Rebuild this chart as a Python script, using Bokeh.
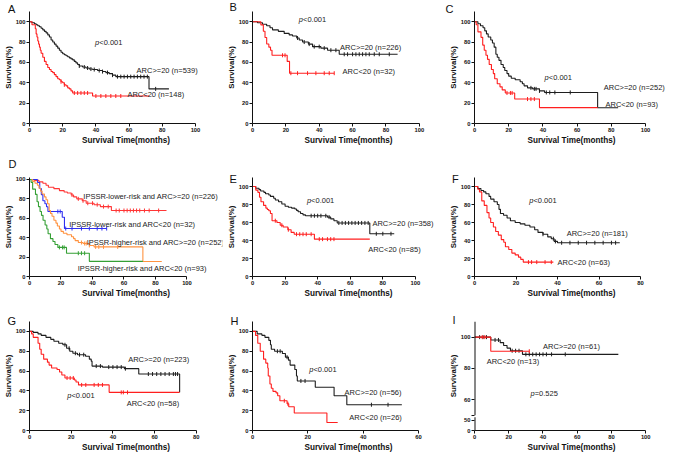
import numpy as np
from bokeh.plotting import figure
from bokeh.layouts import gridplot
from bokeh.models import Range1d, FixedTicker, Label
from bokeh.embed import file_html
from bokeh.resources import INLINE

FONT = "Liberation Sans"
BLACK = "#1e1e1e"
RED = "#ff1f1f"
D_RED = "#ff3636"
D_BLUE = "#2f2ff0"
D_ORANGE = "#ff9340"
D_GREEN = "#35a035"
ANN_SIZE = "7.5px"

X_LABEL = "Survival Time(months)"
Y_LABEL = "Survival(%)"

# ---------------- data (time in months, survival in %) ----------------
# A: all patients
a_hi_t = [0, 1, 2, 3, 4, 5, 6, 7, 8, 9, 10, 11, 12, 13, 14, 15, 16, 17, 18, 19, 20, 21, 22, 23, 24, 25, 26, 27, 28, 29, 30, 32, 34, 36, 38, 41, 44, 46, 48, 50, 52, 72]
a_hi_s = [100, 99.5, 99, 98, 97, 96, 95, 93.5, 92, 90.5, 89, 87, 85, 82, 80, 78, 76, 74, 72, 70, 68.5, 67.5, 66.5, 65.5, 64.5, 63.5, 62.5, 61, 59.5, 58, 56.5, 55.5, 54.5, 53.5, 53, 52, 51, 50, 49, 47.5, 46, 34]
a_hi_end = 84
a_hi_cens = [30, 33, 35, 37, 39, 42, 44, 47, 50, 53, 55, 57, 59, 61, 63, 65, 67, 69, 71, 76]
a_lo_t = [0, 1.5, 3.5, 4, 4.5, 5, 5.5, 6, 6.5, 7, 8, 9, 10, 11, 12, 13, 14, 15, 16, 17, 18, 19, 20, 21, 22, 23, 24, 25, 26, 38]
a_lo_s = [100, 97, 93, 88, 85, 81, 78, 75, 72, 69, 65, 61, 58, 55, 53, 51, 50, 48, 46, 44, 43, 41, 40, 38, 37, 35, 34, 32, 30, 27]
a_lo_end = 72
a_lo_cens = [19, 21, 27, 29, 31, 33, 35, 40, 43, 46, 49, 52, 55]

# B: IPSSR lower risk
b_hi_t = [0, 3, 6, 8.5, 10.5, 12, 15.5, 19, 22, 24, 26.5, 28, 30, 33.5, 36, 41, 45, 52]
b_hi_s = [100, 99, 97.5, 96, 94, 92, 90.5, 88.5, 87, 86, 84, 82, 80, 78, 75.5, 74, 72, 68]
b_hi_end = 87
b_hi_cens = [27, 31, 34, 37, 40, 43, 47, 50, 55, 57, 60, 62, 64, 66, 68, 70, 73, 76, 82]
b_lo_t = [0, 5, 6.5, 7.5, 8.5, 9.8, 10.8, 11.7, 20.8, 22.2]
b_lo_s = [100, 96.9, 90.6, 84.4, 78.1, 75, 71.9, 67, 61, 49.4]
b_lo_end = 49
b_lo_cens = [18, 19.5, 23, 27, 33, 38, 43, 46, 49]

# C: IPSSR higher risk
c_hi_t = [0, 2, 3.5, 5, 6, 7, 8, 9.5, 10.5, 11.5, 12.5, 13.3, 14.3, 15.5, 16.8, 17.7, 19, 20, 21.5, 23.8, 26.7, 28, 29, 31, 34, 38, 41, 72]
c_hi_s = [100, 98, 96, 94, 91, 88, 85, 82, 79, 75, 68, 65, 62, 58, 55, 52, 49, 46.5, 44.5, 43, 41, 39, 37, 35, 34, 32, 30.5, 15.4]
c_hi_end = 84
c_hi_cens = [33, 35, 36, 38, 42, 44, 47, 56]
c_lo_t = [0, 1, 2, 3.8, 4.8, 5.7, 6.7, 7.6, 8.6, 9.9, 11, 11.8, 13.3, 14.9, 16.2, 18, 23.5, 38]
c_lo_s = [100, 97, 90, 84.6, 77, 72, 67, 63, 58, 53, 49, 44, 39, 36, 33, 30, 24, 15.6]
c_lo_end = 72
c_lo_cens = [19, 21, 22, 31, 33, 35]

# E
e_hi_t = [0, 2, 4, 5, 7, 8, 10, 11, 13, 14, 16, 18, 20, 22, 24, 26, 27, 28, 29.5, 31, 32.5, 46, 48, 50, 52, 72]
e_hi_s = [100, 98, 96.5, 95, 93.5, 92, 90.5, 89, 87, 85, 83, 80.5, 78, 77, 76, 75, 73.5, 72, 70, 68.5, 67.5, 66, 64, 62, 59.5, 47.5]
e_hi_end = 87
e_hi_cens = [36, 38, 40, 42, 45, 47, 53, 55, 57, 59, 61, 63, 65, 67, 69, 71, 76, 80, 85]
e_lo_t = [0, 2, 3.3, 4.3, 5.2, 6.8, 8.2, 9.1, 10, 11, 12, 15, 17, 18.8, 21.7, 23.7, 25.6, 38]
e_lo_s = [100, 96, 93.5, 88, 83, 79, 76, 74.5, 73, 70, 62, 60, 57, 55, 52, 49, 47, 41.5]
e_lo_end = 72
e_lo_cens = [14, 18, 22, 27, 29, 31, 33, 36, 41, 43, 46, 48, 50]

# F
f_hi_t = [0, 1.6, 3.1, 4.4, 5.5, 7, 7.8, 9.4, 11, 11.8, 12.5, 14, 15.7, 17.3, 19.6, 22, 24.3, 26.7, 29, 30.6, 33, 35.3, 37, 38.4, 40]
f_hi_s = [100, 97.7, 95.5, 94, 92, 89, 86, 83, 80, 74.6, 70, 68, 65, 62, 60, 58.5, 57, 55, 52, 49, 47, 44, 42, 39, 37.5]
f_hi_end = 70
f_hi_cens = [33, 38, 39, 42, 46, 50, 54, 58, 62, 66, 68]
f_lo_t = [0, 1.6, 2.4, 3.5, 4.7, 6, 7, 7.8, 9.1, 10.2, 11.5, 12.9, 14.1, 14.9, 16.5, 18, 19.6, 21.2, 22.3, 23.5]
f_lo_s = [100, 97, 94, 84, 79, 71, 65, 60, 55, 50, 46, 41, 38, 33, 30, 26, 24, 21.5, 19, 16]
f_lo_end = 38
f_lo_cens = [26, 27.5, 30, 34, 37]

# G
g_hi_t = [0, 1.8, 4.1, 5.6, 7.9, 10.2, 11.7, 14, 16, 17.8, 19.3, 20.8, 23, 26.9, 28.7, 29.6, 30, 35, 45.5, 52.4, 72]
g_hi_s = [100, 99, 97.5, 96, 94, 92, 90, 88, 86.5, 83, 80, 78, 76.5, 75, 72, 70, 65, 64, 62.4, 57, 38.5]
g_hi_end = 72
g_hi_cens = [17, 19, 22, 24, 26, 32, 34, 38, 40, 42, 44, 46, 57, 59, 61, 63, 65, 67, 69, 70, 71]
g_lo_t = [0, 1, 1.8, 4.1, 4.9, 5.6, 6.8, 8.6, 9.4, 10.6, 13.2, 14.4, 15.5, 17, 21.5, 22.3, 23.5, 38.2]
g_lo_s = [100, 97.5, 94, 88, 82, 77, 72, 69, 66, 63, 61.5, 59, 56, 53, 51, 49, 46, 38.5]
g_lo_end = 72
g_lo_cens = [18, 19.5, 21, 25, 27, 31, 33, 35, 44, 45, 47]

# H
h_hi_t = [0, 1.7, 3.4, 4.5, 5.9, 6.5, 6.8, 8, 10.8, 11.9, 13, 13.6, 15.3, 15.9, 16.2, 22.7, 29.5, 34.1]
h_hi_s = [100, 97.5, 96, 94, 91, 86.5, 82, 80, 77.7, 74, 71, 66, 61.5, 55, 50, 43.6, 35, 26]
h_hi_end = 54
h_hi_cens = [9, 10, 12.5, 17.5, 19, 43, 49]
h_lo_t = [0, 1.1, 1.9, 2.8, 4, 4.8, 5.5, 5.7, 6.3, 6.8, 7.4, 8.5, 9.1, 9.9, 12.5, 13.1, 15.1, 26.9]
h_lo_s = [100, 96, 88, 80, 72, 68, 63, 55, 47, 42.6, 39.5, 38, 35, 30, 27, 24, 17.6, 8]
h_lo_end = 30.8
h_lo_cens = [11.5, 12.8]

# I
i_hi_t = [0, 9.5, 15, 17, 19, 21, 28]
i_hi_s = [100, 98.2, 96.5, 94.7, 93, 91.3, 89]
i_hi_end = 84
i_hi_cens = [3, 5, 7, 12, 14, 22, 24, 26, 30, 32, 34, 36, 38, 40, 42, 45, 53]
i_lo_t = [0, 9.5]
i_lo_s = [100, 91]
i_lo_end = 32
i_lo_cens = [4.5, 6, 32]

# texts
lab_a = ["ARC>=20 (n=539)", "ARC<20 (n=148)"]
lab_b = ["ARC>=20 (n=226)", "ARC<20 (n=32)"]
lab_c = ["ARC>=20 (n=252)", "ARC<20 (n=93)"]
lab_d = ["IPSSR-lower-risk and ARC>=20 (n=226)", "IPSSR-lower-risk and ARC<20 (n=32)",
         "IPSSR-higher-risk and ARC>=20 (n=252)", "IPSSR-higher-risk and ARC<20 (n=93)"]
lab_e = ["ARC>=20 (n=358)", "ARC<20 (n=85)"]
lab_f = ["ARC>=20 (n=181)", "ARC<20 (n=63)"]
lab_g = ["ARC>=20 (n=223)", "ARC<20 (n=58)"]
lab_h = ["ARC>=20 (n=56)", "ARC<20 (n=26)"]
lab_i = ["ARC>=20 (n=61)", "ARC<20 (n=13)"]
p_small = "<0.001"
p_i = "=0.525"

TICKS100 = [0, 20, 40, 60, 80, 100]
TICKS80 = [0, 20, 40, 60, 80]
TICKS60 = [0, 20, 40, 60]
YTICKS = [0, 20, 40, 60, 80, 100]


def curve(t, s, end, cens, color):
    return dict(t=t, s=s, end=end, cens=cens, color=color)


def make_panel(letter, size, border, xmax, xticks, yrange, yticks, curves, texts,
               pval=None, letter_pos=(0, 0), yoverrides=None, broken=None, letter_top=None):
    w, h = size
    L, R, T, B = border
    ymin, ymax = yrange
    fw = w - L - R
    R_new = 1
    x_end = xmax * (w - L - R_new) / fw
    p = figure(width=w, height=h, x_range=Range1d(0, x_end), y_range=Range1d(ymin, ymax),
               output_backend="svg", toolbar_location=None,
               min_border_left=L, min_border_right=R_new, min_border_top=T, min_border_bottom=B)
    p.outline_line_color = None
    p.xgrid.visible = False
    p.ygrid.visible = False
    p.background_fill_color = "white"
    p.border_fill_color = "white"

    for c in curves:
        t, s = c["t"], c["s"]
        assert len(t) == len(s)
        xs = list(t) + [c["end"]]
        ys = list(s) + [s[-1]]
        p.step(xs, ys, mode="after", line_color=c["color"], line_width=1.1)
        ta = np.array(t, dtype=float)
        sa = np.array(s, dtype=float)
        ca = np.array(c["cens"], dtype=float)
        idx = np.searchsorted(ta, ca, side="right") - 1
        p.scatter(ca, sa[idx], marker="dash", angle=np.pi / 2, size=4,
                  line_color=c["color"], line_width=1)

    for (x, y, txt) in texts:
        p.add_layout(Label(x=x, y=y, text=txt, text_font=FONT, text_font_size=ANN_SIZE,
                           text_color="#222222", text_baseline="middle", text_align="left"))
    if pval is not None:
        x, y, txt = pval
        p.add_layout(Label(x=x, y=y, text="p", text_font=FONT, text_font_size=ANN_SIZE,
                           text_font_style="italic", text_color="#222222",
                           text_baseline="middle", text_align="left"))
        p.add_layout(Label(x=x, y=y, x_offset=4.2, text=txt, text_font=FONT, text_font_size=ANN_SIZE,
                           text_color="#222222", text_baseline="middle", text_align="left"))

    # panel letter as the title, pulled left of the frame
    p.title.text = letter
    p.title.align = "left"
    p.title.offset = letter_pos[0] - L
    p.title.text_font = FONT
    p.title.text_font_size = "11px"
    p.title.text_font_style = "normal"
    p.title.text_color = "#111111"
    if letter_top is None:
        p.title.standoff = int(round(2 * (T - letter_pos[1] - 10.3)))
    else:
        p.title.vertical_align = "top"
        p.title.standoff = letter_top

    p.xaxis.ticker = FixedTicker(ticks=xticks)
    p.yaxis.ticker = FixedTicker(ticks=yticks)
    p.xaxis.bounds = (0, xmax)
    if yoverrides:
        p.yaxis.major_label_overrides = yoverrides
    p.xaxis.axis_label = X_LABEL
    p.yaxis.axis_label = Y_LABEL
    for ax in (p.xaxis[0], p.yaxis[0]):
        ax.axis_line_color = "#111111"
        ax.axis_line_width = 1
        ax.major_tick_line_color = "#111111"
        ax.major_tick_in = 0
        ax.major_tick_out = 3
        ax.minor_tick_line_color = None
        ax.major_label_text_font = FONT
        ax.major_label_text_font_size = "5.8px"
        ax.major_label_text_font_style = "bold"
        ax.major_label_text_color = "#111111"
        ax.major_label_standoff = 1
        ax.axis_label_text_font = FONT
        ax.axis_label_text_font_style = "bold"
        ax.axis_label_text_color = "#111111"
        ax.axis_label_standoff = 1
    p.xaxis.axis_label_text_font_size = "8.2px"
    p.yaxis.axis_label_text_font_size = "7.8px"
    p.yaxis.axis_label_standoff = 0
    if broken is not None:
        lo_top, hi_bot = broken
        p.yaxis.axis_line_color = None
        p.segment(x0=[0, 0], y0=[hi_bot, ymin], x1=[0, 0], y1=[ymax, lo_top],
                  line_color="#111111", line_width=2)
    return p


pA = make_panel("A", (223, 150), (22, 29, 9, 27), 100, TICKS100, (0, 110), YTICKS,
                [curve(a_hi_t, a_hi_s, a_hi_end, a_hi_cens, BLACK),
                 curve(a_lo_t, a_lo_s, a_lo_end, a_lo_cens, RED)],
                [(64.5, 52, lab_a[0]), (59, 28.4, lab_a[1])],
                pval=(39.5, 80, p_small), letter_pos=(0.5, 1.6))

pB = make_panel("B", (222, 150), (23, 27, 9, 27), 100, TICKS100, (0, 110), YTICKS,
                [curve(b_hi_t, b_hi_s, b_hi_end, b_hi_cens, BLACK),
                 curve(b_lo_t, b_lo_s, b_lo_end, b_lo_cens, RED)],
                [(52.5, 75, lab_b[0]), (54, 50.8, lab_b[1])],
                pval=(27.8, 101.9, p_small), letter_pos=(0, 0))

pC = make_panel("C", (224, 150), (29, 24, 9, 27), 100, TICKS100, (0, 110), YTICKS,
                [curve(c_hi_t, c_hi_s, c_hi_end, c_hi_cens, BLACK),
                 curve(c_lo_t, c_lo_s, c_lo_end, c_lo_cens, RED)],
                [(75.6, 35, lab_c[0]), (76.6, 18.8, lab_c[1])],
                pval=(41, 45.5, p_small), letter_pos=(0, 1.6))

pD = make_panel("D", (223, 150), (21, 38, 27, 23), 100, TICKS100, (0, 102), YTICKS,
                [curve(b_hi_t, b_hi_s, b_hi_end, b_hi_cens, D_RED),
                 curve(b_lo_t, b_lo_s, b_lo_end, b_lo_cens, D_BLUE),
                 curve(c_hi_t, c_hi_s, c_hi_end, c_hi_cens, D_ORANGE),
                 curve(c_lo_t, c_lo_s, c_lo_end, c_lo_cens, D_GREEN)],
                [(34.2, 82, lab_d[0]), (25.2, 53.2, lab_d[1]),
                 (36.3, 35.5, lab_d[2]), (30.6, 8, lab_d[3])],
                letter_pos=(0, 6.5), letter_top=11)

pE = make_panel("E", (222, 150), (23, 31, 16, 23), 100, TICKS100, (0, 110), YTICKS,
                [curve(e_hi_t, e_hi_s, e_hi_end, e_hi_cens, BLACK),
                 curve(e_lo_t, e_lo_s, e_lo_end, e_lo_cens, RED)],
                [(73.6, 59, lab_e[0]), (71, 30, lab_e[1])],
                pval=(33.4, 84.2, p_small), letter_pos=(0, 12.6))

pF = make_panel("F", (224, 150), (29, 29, 16, 23), 80, TICKS80, (0, 110), YTICKS,
                [curve(f_hi_t, f_hi_s, f_hi_end, f_hi_cens, BLACK),
                 curve(f_lo_t, f_lo_s, f_lo_end, f_lo_cens, RED)],
                [(44.4, 47.9, lab_f[0]), (40, 15.8, lab_f[1])],
                pval=(26.4, 84.2, p_small), letter_pos=(6.5, 12.6))

pG = make_panel("G", (223, 154), (23, 28, 20, 22), 80, TICKS80, (0, 110), YTICKS,
                [curve(g_hi_t, g_hi_s, g_hi_end, g_hi_cens, BLACK),
                 curve(g_lo_t, g_lo_s, g_lo_end, g_lo_cens, RED)],
                [(47.3, 71.5, lab_g[0]), (46.6, 27, lab_g[1])],
                pval=(18.1, 35.7, p_small), letter_pos=(1, 14.5))

pH = make_panel("H", (222, 154), (22, 28, 20, 22), 60, TICKS60, (0, 110), YTICKS,
                [curve(h_hi_t, h_hi_s, h_hi_end, h_hi_cens, BLACK),
                 curve(h_lo_t, h_lo_s, h_lo_end, h_lo_cens, RED)],
                [(33.3, 37.9, lab_h[0]), (35, 12.9, lab_h[1])],
                pval=(20.5, 62, p_small), letter_pos=(0, 14.5))

pI = make_panel("I", (224, 154), (27, 24, 21, 20), 100, TICKS100, (40.3, 110),
                [40.3, 46.8, 50.1, 60, 80, 100],
                [curve(i_hi_t, i_hi_s, i_hi_end, i_hi_cens, BLACK),
                 curve(i_lo_t, i_lo_s, i_lo_end, i_lo_cens, RED)],
                [(40, 93.7, lab_i[0]), (7.1, 84.2, lab_i[1])],
                pval=(32.7, 64, p_i), letter_pos=(5, 14.5),
                yoverrides={40.3: "0", 46.8: "50", 50.1: ""}, broken=(48.8, 50.1))

grid = gridplot([[pA, pB, pC], [pD, pE, pF], [pG, pH, pI]], toolbar_location=None)

open("out.html", "w").write(file_html(grid, INLINE))
